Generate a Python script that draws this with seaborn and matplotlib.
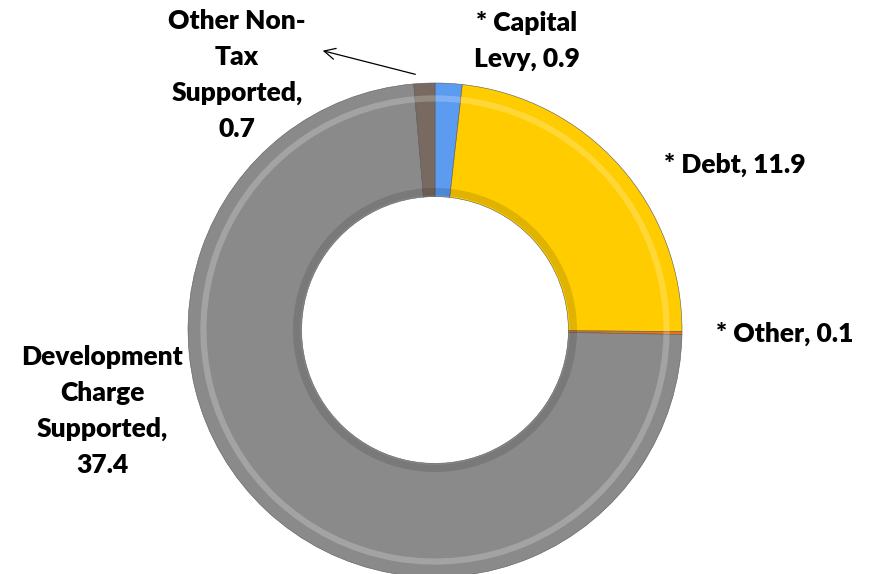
import matplotlib
matplotlib.use("Agg")
import matplotlib.pyplot as plt
import seaborn as sns

# Capital budget funding sources (values in $ millions)
categories = ["* Capital Levy", "* Debt", "* Other",
              "Development Charge Supported", "Other Non-Tax Supported"]
values = [0.9, 11.9, 0.1, 37.4, 0.7]
slice_colors = ["#5B9BF0", "#FFCC00", "#E8731A", "#8A8A8A", "#786A60"]
label_texts = ["* Capital\nLevy, 0.9", "* Debt, 11.9", "* Other, 0.1",
               "Development\nCharge\nSupported,\n37.4", "Other Non-\nTax\nSupported,\n0.7"]

sns.set_style("white")
plt.rcParams["font.family"] = ["Lato", "DejaVu Sans"]

W, H = 871, 574
fig = plt.figure(figsize=(W / 100, H / 100), dpi=100)

# donut centre and radius in pixels
cx, cy, r = 435, 330, 247
ax = fig.add_axes([(cx - r) / W, (H - cy - r) / H, 2 * r / W, 2 * r / H])

wedges, _ = ax.pie(values, colors=slice_colors, startangle=90, counterclock=False,
                   radius=1.0, wedgeprops=dict(width=0.46, edgecolor="#5a5a5a", linewidth=0.4))
# soft bevel: light rim near outer edge, darker rim near the hole
ax.pie(values, colors=["white"] * len(values), startangle=90, counterclock=False,
       radius=0.95, wedgeprops=dict(width=0.025, alpha=0.22, linewidth=0))
ax.pie(values, colors=["black"] * len(values), startangle=90, counterclock=False,
       radius=0.575, wedgeprops=dict(width=0.03, alpha=0.12, linewidth=0))
ax.set_xlim(-1, 1)
ax.set_ylim(-1, 1)
ax.axis("off")

# label positions (pixels) for each category
label_pos = [(527, 41), (735, 165), (785, 334), (102, 411), (237, 75)]
for txt, (px, py) in zip(label_texts, label_pos):
    fig.text(px / W, 1 - py / H, txt, ha="center", va="center", fontsize=19,
             fontweight="heavy", color="black", linespacing=1.6)

# leader arrow for the small "Other Non-Tax Supported" slice
fig.add_artist(matplotlib.patches.FancyArrowPatch(
    (418 / W, 1 - 75 / H), (320 / W, 1 - 50 / H), transform=fig.transFigure,
    arrowstyle="->,head_length=8,head_width=4", color="black", lw=0.9))

fig.savefig("out.png", dpi=100)
